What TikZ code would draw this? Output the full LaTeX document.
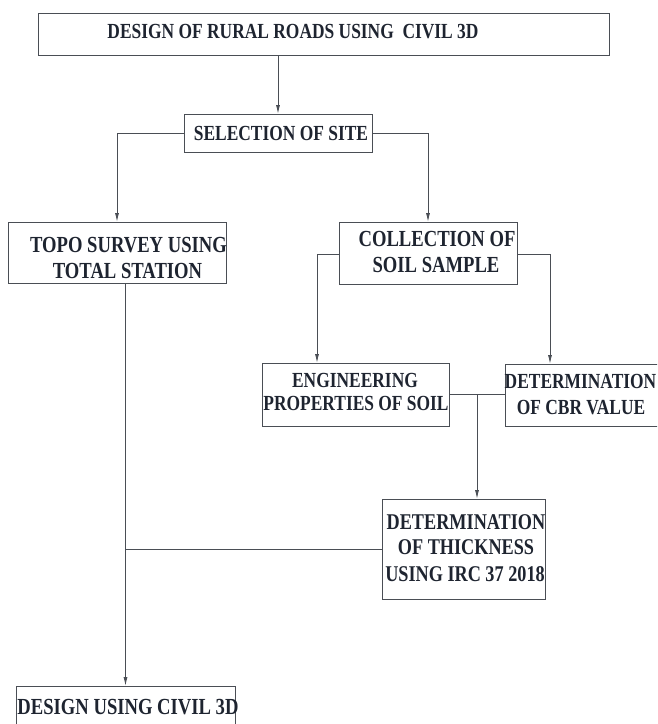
\documentclass[tikz,border=0pt]{standalone}
\usepackage{fontspec}
\setmainfont{Liberation Serif}[FakeStretch=0.81]
\usetikzlibrary{arrows.meta}
\definecolor{txt}{HTML}{1E2430}
\definecolor{ln}{HTML}{4A4E55}
\begin{document}
\begin{tikzpicture}[x=1pt,y=-1pt,
  box/.style={draw=ln,line width=0.9pt,rectangle,inner sep=0pt,outer sep=0pt},
  lbl/.style={text=txt,font=\fontsize{#1}{24}\selectfont\bfseries,inner sep=0pt,anchor=center},
  lbl/.default=21.5,
  conn/.style={draw=ln,line width=0.9pt},
  arr/.style={conn,-{Latex[length=9pt,width=4pt]}}]
\useasboundingbox (0,0) rectangle (657,724);
\clip (0,0) rectangle (657,724);
% boxes
\node[box,minimum width=571pt,minimum height=42pt] (top) at (323.5,34) {};
\node[box,minimum width=188pt,minimum height=38pt] (sel) at (278,133) {};
\node[box,minimum width=218pt,minimum height=61pt] (topo) at (117,252.5) {};
\node[box,minimum width=178pt,minimum height=62pt] (coll) at (428,253) {};
\node[box,minimum width=187pt,minimum height=63pt] (eng) at (355.5,394.5) {};
\node[box,minimum width=200pt,minimum height=62pt] (cbr) at (605,395) {};
\node[box,minimum width=163pt,minimum height=100pt] (thick) at (463.5,549) {};
\node[box,minimum width=219pt,minimum height=60pt] (bot) at (125.5,716) {};
% texts
\node[lbl] (ttop) at (293,32) {DESIGN OF RURAL ROADS USING\ \ CIVIL 3D};
\node[lbl] (tsel) at (281,133) {SELECTION OF SITE};
\node[lbl=23] (ttopoa) at (128.5,245) {TOPO SURVEY USING};
\node[lbl=23] (ttopob) at (127.5,271) {TOTAL STATION};
\node[lbl=23] (tcolla) at (437,238.5) {COLLECTION OF};
\node[lbl=23] (tcollb) at (436,264.5) {SOIL SAMPLE};
\node[lbl] (tenga) at (355,380) {ENGINEERING};
\node[lbl] (tengb) at (356,403.5) {PROPERTIES OF SOIL};
\node[lbl] (tcbra) at (580.5,381.5) {DETERMINATION};
\node[lbl] (tcbrb) at (581,408) {OF CBR VALUE};
\node[lbl=22.5] (ttha) at (466,522.5) {DETERMINATION};
\node[lbl=22.5] (tthb) at (466,547.5) {OF THICKNESS};
\node[lbl=22.5] (tthc) at (465,574) {USING IRC 37 2018};
\node[lbl=23] (tbot) at (128,707) {DESIGN USING CIVIL 3D};
% junction coordinates
\coordinate (engin) at (317,363);
\coordinate (cbrin) at (550,364);
\coordinate (cl) at (339,254);
\coordinate (cr) at (517,254);
\coordinate (er) at (449,394);
\coordinate (cbl) at (505,394);
\coordinate (jn) at (477,394);
\coordinate (thin) at (477,499);
% connectors
\draw[arr] (top.south -| sel.north) -- (sel.north);
\draw[arr] (sel.west) -| (topo.north);
\draw[arr] (sel.east) -| (coll.north);
\draw[arr] (cl) -| (engin);
\draw[arr] (cr) -| (cbrin);
\draw[conn] (er) -- (cbl);
\draw[arr] (jn) -- (thin);
\draw[arr] (topo.south -| bot.north) -- (bot.north);
\draw[conn] (thick.west) -- (thick.west -| bot.north);
\end{tikzpicture}
\end{document}
